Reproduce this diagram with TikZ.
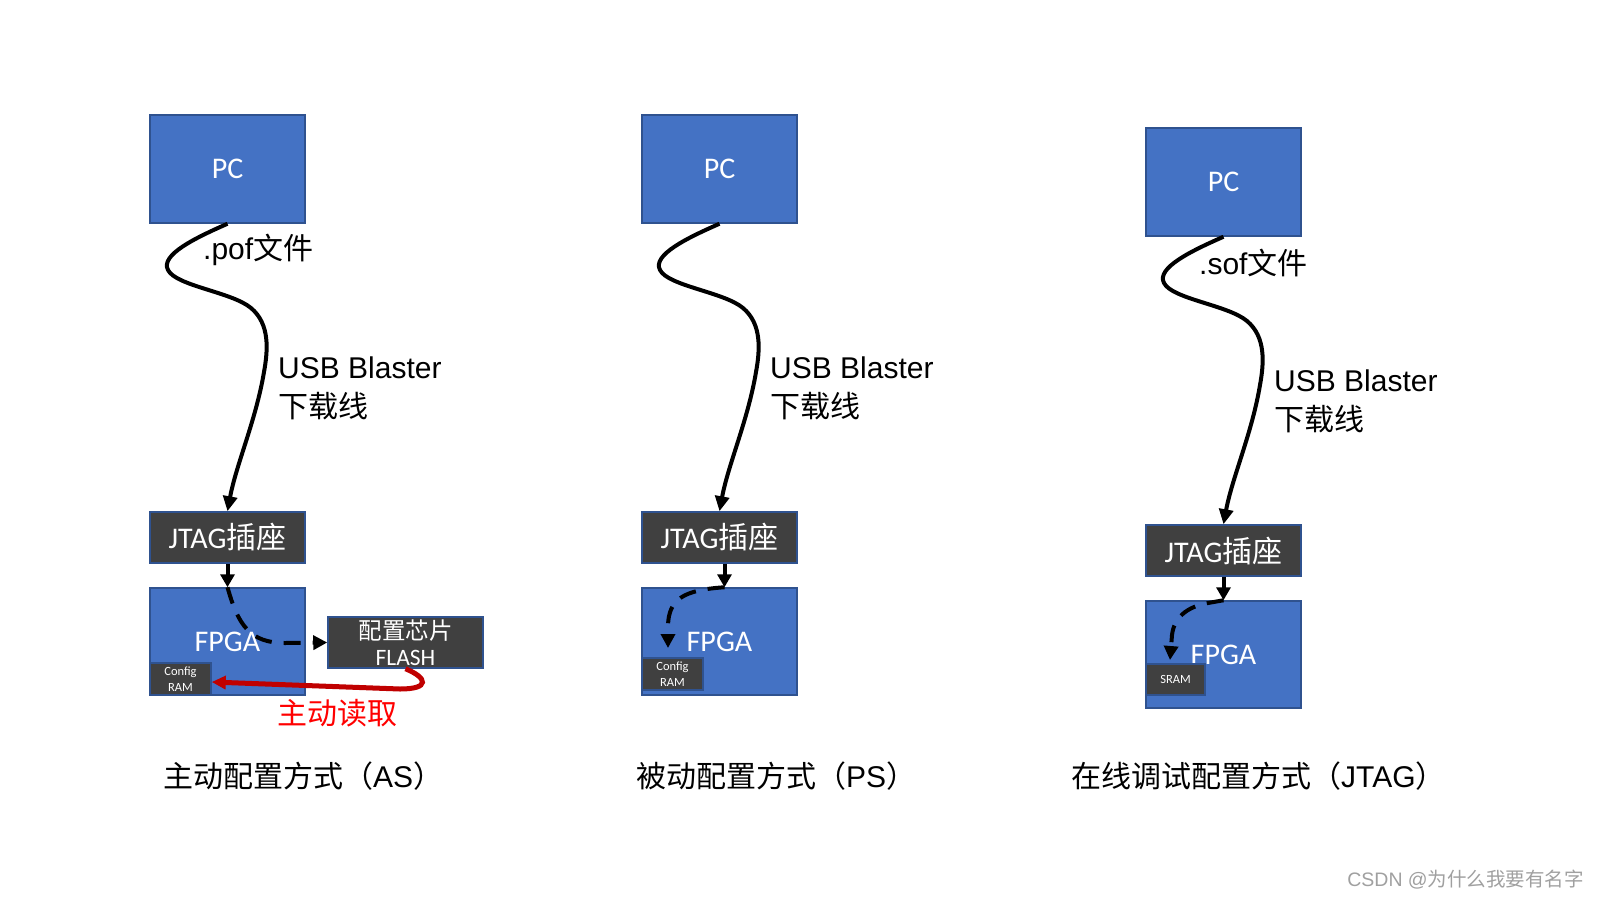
\documentclass[tikz,border=0pt]{standalone}
\usepackage{fontspec}
\setmainfont{Carlito}
\newfontfamily\cjk{Noto Sans CJK SC}
\newfontfamily\arial{Liberation Sans}
\usetikzlibrary{arrows.meta}
\definecolor{boxblue}{HTML}{4472C4}
\definecolor{edgeblue}{HTML}{2F528F}
\definecolor{darkbox}{HTML}{404040}
\definecolor{darkred}{HTML}{C00000}
\definecolor{wmgray}{HTML}{A0A0A0}
\tikzset{
  bluebox/.style={draw=edgeblue, fill=boxblue, line width=1.5pt, text=white, inner sep=0pt,
    minimum width=155pt, font=\fontsize{30}{34}\selectfont},
  darkboxs/.style={draw=edgeblue, fill=darkbox, line width=1.5pt, text=white, inner sep=0pt},
  smallbox/.style={draw=edgeblue, fill=darkbox, line width=1.5pt, text=white, inner sep=0pt,
    align=center, font=\fontsize{12.5}{15.5}\selectfont},
  cable/.style={line width=4pt, -{Triangle[length=15pt,width=14pt]}},
  shortarrow/.style={line width=4pt, -{Triangle[length=13pt,width=14pt]}},
  dashline/.style={line width=4pt, dash pattern=on 17pt off 12pt, -{Triangle[length=14pt,width=14pt]}},
  redarrow/.style={line width=5pt, darkred, -{Triangle[length=14pt,width=13pt]}},
  lbl/.style={inner sep=0pt, font=\fontsize{30}{35}\selectfont},
  caption/.style={inner sep=0pt, anchor=west, font=\fontsize{30}{35}\selectfont},
}
\begin{document}
\begin{tikzpicture}[x=1pt,y=-1pt]
\useasboundingbox (0,0) rectangle (1600,900);
\fill[white] (0,0) rectangle (1600,900);

% ---------------- Panel 1 (AS) ----------------
\node[bluebox, minimum height=108pt] (pc1) at (227.5,169) {PC};
\node[bluebox, darkboxs, minimum height=51pt] (jtag1) at (227.5,537.5) {JTAG{\cjk 插座}};
\node[bluebox, minimum height=107pt] (fpga1) at (227.5,641.5) {FPGA};
\node[smallbox, minimum width=61pt, minimum height=32pt] (cfg1) at (180.5,679) {Config\\RAM};
\node[darkboxs, minimum width=155pt, minimum height=51pt, align=center,
  font=\fontsize{23.5}{26}\selectfont] (flash) at (405.5,642.5) {{\cjk 配置芯片}\\FLASH};
\draw[cable] (pc1.south) .. controls (195,238) and (160,255) .. (168,270)
  .. controls (176,286) and (232,292) .. (251,308)
  .. controls (270,324) and (268,350) .. (264,372)
  .. controls (256,420) and (236,465) .. (jtag1.north);
\node[lbl, anchor=west] (pof) at (203,250) {{\arial .pof}{\cjk 文件}};
\node[lbl, anchor=base west] (usb1) at (278,378) {\arial USB Blaster};
\node[lbl, anchor=west] (dl1) at (278,406) {\cjk 下载线};
\draw[shortarrow] (jtag1.south) -- (fpga1.north);
\draw[dashline] (fpga1.north) .. controls (238,625) and (250,643) .. (285,643) -- (flash.west);
\draw[redarrow] (flash.south) .. controls (428,678) and (430,689) .. (400,689) -- ([yshift=-3pt]cfg1.east);
\node[lbl, text=red, font=\cjk\fontsize{30}{35}\selectfont] (read) at (337,713) {主动读取};

% ---------------- Panel 2 (PS) ----------------
\begin{scope}[shift={(492,0)}]
\node[bluebox, minimum height=108pt] (pc2) at (227.5,169) {PC};
\node[bluebox, darkboxs, minimum height=51pt] (jtag2) at (227.5,537.5) {JTAG{\cjk 插座}};
\node[bluebox, minimum height=107pt] (fpga2) at (227.5,641.5) {FPGA};
\node[smallbox, minimum width=61pt, minimum height=32pt] (cfg2) at (180.5,674) {Config\\RAM};
\draw[cable] (pc2.south) .. controls (195,238) and (160,255) .. (168,270)
  .. controls (176,286) and (232,292) .. (251,308)
  .. controls (270,324) and (268,350) .. (264,372)
  .. controls (256,420) and (236,465) .. (jtag2.north);
\node[lbl, anchor=base west] (usb2) at (278,378) {\arial USB Blaster};
\node[lbl, anchor=west] (dl2) at (278,406) {\cjk 下载线};
\draw[shortarrow] ([xshift=5pt]jtag2.south) -- ([xshift=5pt]fpga2.north);
\coordinate (tip2) at (176,648);
\draw[dashline] ([xshift=5pt]fpga2.north) .. controls (190,590) and (177,600) .. (176,625) -- (tip2);
\end{scope}

% ---------------- Panel 3 (JTAG) ----------------
\begin{scope}[shift={(996,13)}]
\node[bluebox, minimum height=108pt] (pc3) at (227.5,169) {PC};
\node[bluebox, darkboxs, minimum height=51pt] (jtag3) at (227.5,537.5) {JTAG{\cjk 插座}};
\node[bluebox, minimum height=107pt] (fpga3) at (227.5,641.5) {FPGA};
\node[smallbox, minimum width=59pt, minimum height=31pt] (sram) at (179.5,666.5) {SRAM};
\draw[cable] (pc3.south) .. controls (195,238) and (160,255) .. (168,270)
  .. controls (176,286) and (232,292) .. (251,308)
  .. controls (270,324) and (268,350) .. (264,372)
  .. controls (256,420) and (236,465) .. (jtag3.north);
\node[lbl, anchor=west] (sof) at (203,250) {{\arial .sof}{\cjk 文件}};
\node[lbl, anchor=base west] (usb3) at (278,378) {\arial USB Blaster};
\node[lbl, anchor=west] (dl3) at (278,406) {\cjk 下载线};
\draw[shortarrow] (jtag3.south) -- (fpga3.north);
\coordinate (tip3) at (174,647);
\draw[dashline] (fpga3.north) -- (212,590) .. controls (190,594) and (178,605) .. (176,622) -- (tip3);
\end{scope}

% ---------------- Captions ----------------
\node[caption] (cap1) at (163,776) {{\cjk 主动配置方式（}{\arial AS}{\cjk ）}};
\node[caption] (cap2) at (636,776) {{\cjk 被动配置方式（}{\arial PS}{\cjk ）}};
\node[caption] (cap3) at (1071,776) {{\cjk 在线调试配置方式（}{\arial JTAG}{\cjk ）}};

\node[inner sep=0pt, anchor=east, text=wmgray, font=\fontsize{19.5}{23}\selectfont] (wm) at (1584,880)
  {{\arial CSDN @}{\cjk 为什么我要有名字}};
\end{tikzpicture}
\end{document}
